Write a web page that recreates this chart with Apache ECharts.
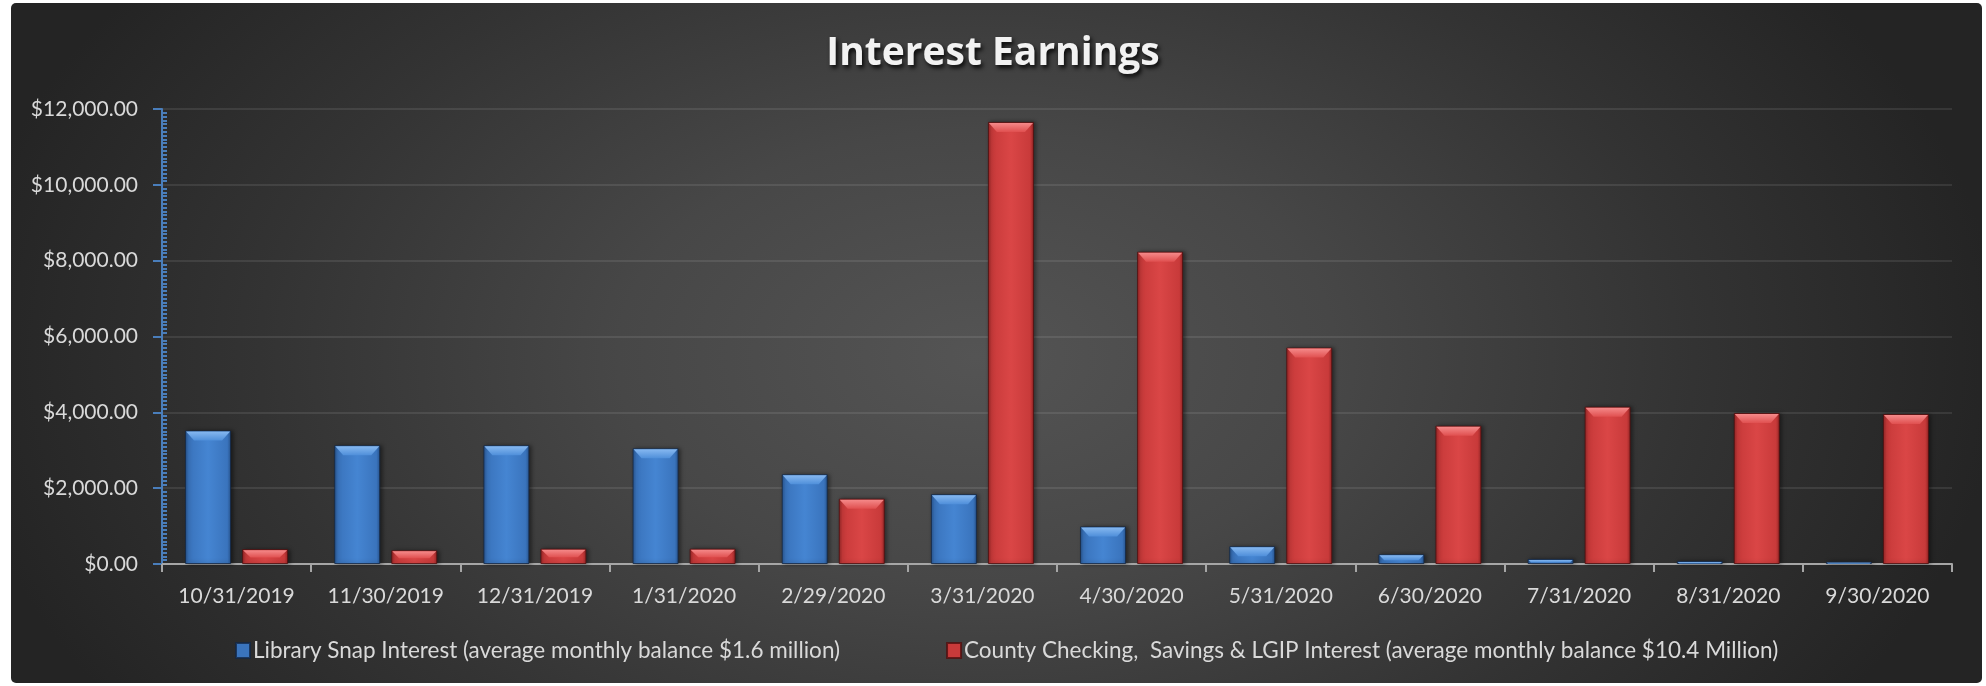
<!DOCTYPE html>
<html>
<head>
<meta charset="utf-8">
<title>Interest Earnings</title>
<script src="https://cdn.jsdelivr.net/npm/echarts@6/dist/echarts.min.js"></script>
<style>
  html, body { margin: 0; padding: 0; background: #ffffff; }
  #panel {
    position: absolute; left: 11px; top: 3px; width: 1971px; height: 680px;
    border-radius: 5px;
    background: radial-gradient(ellipse 52% 95% at 49% 52%, #545454 0%, #474747 35%, #333333 70%, #242424 100%);
  }
  #chart { position: absolute; left: 0; top: 0; width: 1986px; height: 686px; }
</style>
</head>
<body>
<div id="panel"></div>
<div id="chart"></div>
<script>
// Month-end dates
const categories = [
  '10/31/2019', '11/30/2019', '12/31/2019', '1/31/2020', '2/29/2020', '3/31/2020',
  '4/30/2020', '5/31/2020', '6/30/2020', '7/31/2020', '8/31/2020', '9/30/2020'
];

// Library Snap Interest per month ($)
const libraryInterest = [3520, 3130, 3130, 3050, 2365, 1840, 990, 466, 255, 135, 80, 62];

// County Checking, Savings & LGIP Interest per month ($)
const countyInterest = [392, 360, 404, 404, 1723, 11660, 8237, 5708, 3648, 4149, 3982, 3956];

const seriesNames = [
  'Library Snap Interest (average monthly balance $1.6 million)',
  'County Checking,  Savings & LGIP Interest (average monthly balance $10.4 Million)'
];

// Y axis ticks
const yMin = 0;
const yMax = 12000;
const yStep = 2000;

const FONT = 'Lato, "Open Sans", sans-serif';
const BAR_W = 46;
const BAR_GAP = 0.24;

function barGradient(edge, mid, center) {
  return new echarts.graphic.LinearGradient(0, 0, 1, 0, [
    { offset: 0, color: edge },
    { offset: 0.08, color: mid },
    { offset: 0.5, color: center },
    { offset: 0.92, color: mid },
    { offset: 1, color: edge }
  ]);
}

const blueFill = barGradient('#285590', '#3a74bd', '#4585d2');
const redFill = barGradient('#962626', '#c83a3a', '#da4646');

function money(v) {
  return '$' + v.toLocaleString('en-US', { minimumFractionDigits: 2, maximumFractionDigits: 2 });
}

// Lighter bevelled top face drawn over each bar of a series
function bevelSeries(values, side, topColor, baseColor) {
  return {
    type: 'custom',
    silent: true,
    z: 5,
    data: values.map((v, i) => [i, v]),
    renderItem: function (params, api) {
      const idx = api.value(0);
      const top = api.coord([idx, api.value(1)]);
      const base = api.coord([idx, 0]);
      const shift = side * (BAR_W + BAR_W * BAR_GAP) / 2;
      const x0 = top[0] + shift - BAR_W / 2 + 1;
      const x1 = top[0] + shift + BAR_W / 2 - 1;
      const h = base[1] - top[1];
      const depth = Math.min(9, h / 2);
      const inset = Math.min(8, depth);
      const y = top[1] + 1;
      return {
        type: 'polygon',
        shape: { points: [[x0, y], [x1, y], [x1 - inset, y + depth], [x0 + inset, y + depth]] },
        style: {
          fill: new echarts.graphic.LinearGradient(0, 0, 0, 1, [
            { offset: 0, color: topColor },
            { offset: 1, color: baseColor }
          ])
        }
      };
    }
  };
}

const chart = echarts.init(document.getElementById('chart'), null, { renderer: 'canvas' });

chart.setOption({
  backgroundColor: 'transparent',
  animation: false,
  title: {
    text: 'Interest Earnings',
    left: 'center',
    top: 29,
    textStyle: {
      fontFamily: '"Open Sans", Lato, sans-serif',
      fontSize: 39,
      fontWeight: 'bold',
      color: '#f2f2f2',
      textShadowColor: 'rgba(0,0,0,0.85)',
      textShadowBlur: 4,
      textShadowOffsetX: 2,
      textShadowOffsetY: 3
    }
  },
  legend: {
    top: 634,
    left: 230,
    itemGap: 106,
    itemWidth: 14,
    itemHeight: 15,
    icon: 'rect',
    data: [
      { name: seriesNames[0], itemStyle: { color: '#3a74bd' } },
      { name: seriesNames[1], itemStyle: { color: '#c83a3a' } }
    ],
    textStyle: { fontFamily: FONT, fontSize: 22.5, color: '#d9d9d9', padding: [0, 0, 0, -2] }
  },
  grid: {
    left: 162,
    right: 34,
    top: 109,
    bottom: 122,
    containLabel: false
  },
  xAxis: {
    type: 'category',
    data: categories,
    boundaryGap: true,
    axisLine: { show: true, lineStyle: { color: '#a6a6a6', width: 2 } },
    axisTick: { show: true, length: 8, lineStyle: { color: '#a6a6a6', width: 2 } },
    axisLabel: { fontFamily: FONT, fontSize: 21, color: '#d9d9d9', margin: 22, interval: 0 },
    splitLine: { show: false }
  },
  yAxis: [
    {
      type: 'value',
      min: yMin,
      max: yMax,
      interval: yStep,
      axisLine: { show: true, lineStyle: { color: '#4a7ebb', width: 2 } },
      axisTick: { show: true, length: 9, lineStyle: { color: '#4a7ebb', width: 2 } },
      axisLabel: { fontFamily: FONT, fontSize: 21, color: '#d9d9d9', margin: 24, formatter: money },
      splitLine: { show: true, lineStyle: { color: 'rgba(255,255,255,0.09)', width: 2 } }
    },
    {
      // minor ticks on the inner side of the value axis
      type: 'value',
      position: 'left',
      min: yMin,
      max: yMax,
      interval: yStep,
      axisLine: { show: false },
      axisTick: { show: false, inside: true },
      minorTick: { show: true, splitNumber: 20, length: 5, lineStyle: { color: '#4a7ebb', width: 2 } },
      axisLabel: { show: false },
      splitLine: { show: false }
    }
  ],
  series: [
    {
      name: seriesNames[0],
      type: 'bar',
      data: libraryInterest,
      barWidth: BAR_W,
      barGap: (BAR_GAP * 100) + '%',
      itemStyle: {
        color: blueFill,
        borderColor: 'rgba(20,40,70,0.8)',
        borderWidth: 1,
        shadowColor: 'rgba(0,0,0,0.45)',
        shadowBlur: 4,
        shadowOffsetX: 2,
        shadowOffsetY: 0
      }
    },
    {
      name: seriesNames[1],
      type: 'bar',
      data: countyInterest,
      barWidth: BAR_W,
      barGap: (BAR_GAP * 100) + '%',
      itemStyle: {
        color: redFill,
        borderColor: 'rgba(80,15,15,0.8)',
        borderWidth: 1,
        shadowColor: 'rgba(0,0,0,0.45)',
        shadowBlur: 4,
        shadowOffsetX: 2,
        shadowOffsetY: 0
      }
    },
    bevelSeries(libraryInterest, -1, '#86b8f0', '#4f8fda'),
    bevelSeries(countyInterest, 1, '#f58a8a', '#e05050')
  ]
});
</script>
</body>
</html>
